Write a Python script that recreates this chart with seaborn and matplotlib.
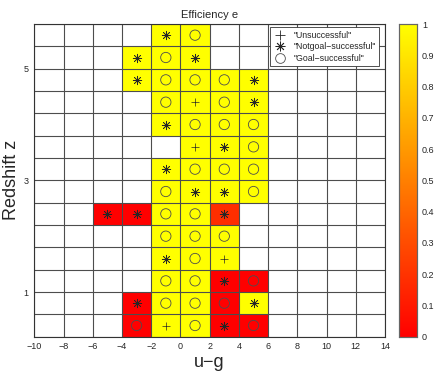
import numpy as np
import pandas as pd
import seaborn as sns
import matplotlib.pyplot as plt
from matplotlib.lines import Line2D

# cell centres (u-g, z), efficiency and outcome of each filled cell
ug = [-1, 1,
      -3, -1, 1,
      -3, -1, 1, 3, 5,
      -1, 1, 3, 5,
      -1, 1, 3, 5,
      1, 3, 5,
      -1, 1, 3, 5,
      -1, 1, 3, 5,
      -5, -3, -1, 1, 3,
      -1, 1, 3,
      -1, 1, 3,
      -1, 1, 3, 5,
      -3, -1, 1, 3, 5,
      -3, -1, 1, 3, 5]
z = [5.6] * 2 + [5.2] * 3 + [4.8] * 5 + [4.4] * 4 + [4.0] * 4 + [3.6] * 3 + \
    [3.2] * 4 + [2.8] * 4 + [2.4] * 5 + [2.0] * 3 + [1.6] * 3 + [1.2] * 4 + \
    [0.8] * 5 + [0.4] * 5
eff = [1, 1,
       1, 1, 1,
       1, 1, 1, 1, 1,
       1, 1, 1, 1,
       1, 1, 1, 1,
       1, 1, 1,
       1, 1, 1, 1,
       1, 1, 1, 1,
       0, 0, 1, 1, 0.18,
       1, 1, 1,
       1, 1, 1,
       1, 1, 0, 0,
       0, 1, 1, 0, 1,
       0, 1, 1, 0, 0]
outcome = ['N', 'G',
           'N', 'G', 'N',
           'N', 'G', 'G', 'G', 'N',
           'G', 'U', 'G', 'N',
           'N', 'G', 'G', 'G',
           'U', 'N', 'G',
           'N', 'G', 'G', 'G',
           'G', 'N', 'N', 'G',
           'N', 'N', 'G', 'G', 'N',
           'G', 'G', 'G',
           'N', 'G', 'U',
           'G', 'G', 'N', 'G',
           'N', 'G', 'G', 'G', 'N',
           'G', 'U', 'G', 'N', 'G']

ug_edges = np.arange(-10, 15, 2)
z_edges = np.round(np.arange(0.2, 5.81, 0.4), 1)
x_ticks = list(range(-10, 15, 2))
y_ticks = [1, 3, 5]
cbar_ticks = np.round(np.arange(0, 1.01, 0.1), 1)

labels = {'U': '"Unsuccessful"', 'N': '"Notgoal\u2212successful"', 'G': '"Goal\u2212successful"'}
markers = {'U': '+', 'N': (8, 2, 0), 'G': 'o'}

df = pd.DataFrame({'ug': ug, 'z': z, 'eff': eff, 'outcome': outcome})
ug_c = (ug_edges[:-1] + ug_edges[1:]) / 2
z_c = np.round((z_edges[:-1] + z_edges[1:]) / 2, 1)
grid = df.pivot_table(index='z', columns='ug', values='eff').reindex(index=z_c[::-1], columns=ug_c)

sns.set_style('white')
plt.rcParams['font.family'] = ['Liberation Sans', 'DejaVu Sans']

fig = plt.figure(figsize=(4.36, 3.71), dpi=100)
ax = fig.add_axes([0.0787, 0.0925, 0.8044, 0.8428])
cax = fig.add_axes([0.9155, 0.0925, 0.041, 0.8428])

sns.heatmap(grid, cmap='autumn', vmin=0, vmax=1, ax=ax, cbar_ax=cax,
            xticklabels=False, yticklabels=False,
            cbar_kws={'ticks': cbar_ticks})

# heatmap coordinates: column index along x, row index from the top along y
dx = ug_edges[1] - ug_edges[0]
dz = z_edges[1] - z_edges[0]
def to_x(v):
    return (np.asarray(v, float) - ug_edges[0]) / dx
def to_y(v):
    return (z_edges[-1] - np.asarray(v, float)) / dz

for i in range(len(ug_edges)):
    ax.axvline(i, color='0.3', lw=0.8, zorder=2)
for j in range(len(z_edges)):
    ax.axhline(j, color='0.3', lw=0.8, zorder=2)

df['x'] = to_x(df['ug'])
df['y'] = to_y(df['z'])
for key in ['U', 'N', 'G']:
    sub = df[df['outcome'] == key]
    if key == 'G':
        sns.scatterplot(data=sub, x='x', y='y', ax=ax, marker='o', s=55,
                        facecolors='none', edgecolors='0.3', linewidths=0.6,
                        legend=False, zorder=3)
    else:
        sns.scatterplot(data=sub, x='x', y='y', ax=ax, marker=markers[key], s=38,
                        color='0.15', linewidths=0.5, legend=False, zorder=3)

ax.set_xlim(0, len(ug_edges) - 1)
ax.set_ylim(len(z_edges) - 1, 0)
ax.set_xticks(to_x(x_ticks))
ax.set_xticklabels([str(t).replace('-', '\u2212') for t in x_ticks])
ax.set_yticks(to_y(y_ticks))
ax.set_yticklabels([str(t) for t in y_ticks])
ax.tick_params(length=0, labelsize=6.5, pad=4, colors='0.15')
for s in ax.spines.values():
    s.set_visible(True)
    s.set_color('0.2')
    s.set_linewidth(0.8)

ax.set_title('Efficiency e', fontsize=8, pad=4)
ax.set_xlabel('u\u2212g', fontsize=13, labelpad=2)
ax.set_ylabel('Redshift z', fontsize=13, labelpad=3)

handles = [Line2D([], [], ls='none', marker=markers['U'], color='0.15', ms=7, mew=0.6),
           Line2D([], [], ls='none', marker=markers['N'], color='0.15', ms=7, mew=0.6),
           Line2D([], [], ls='none', marker='o', mfc='none', mec='0.3', ms=7, mew=0.6)]
leg = ax.legend(handles, [labels['U'], labels['N'], labels['G']],
                loc='upper right', bbox_to_anchor=(0.983, 0.99), borderaxespad=0,
                fontsize=6.3, frameon=True, fancybox=False, framealpha=1,
                handlelength=1.5, handletextpad=0.8, labelspacing=0.3,
                borderpad=0.4)
leg.get_frame().set_edgecolor('0.2')
leg.get_frame().set_linewidth(0.6)
leg.set_zorder(5)

cax.tick_params(direction='in', length=3, width=0.5, labelsize=6.5, colors='0.15')
cax.set_yticklabels([('%g' % t) for t in cbar_ticks])
cax.yaxis.set_ticks_position('both')
cax.tick_params(labelleft=False, labelright=True)
for s in cax.spines.values():
    s.set_visible(True)
    s.set_color('0.4')
    s.set_linewidth(0.8)

fig.savefig('out.png', dpi=100)
